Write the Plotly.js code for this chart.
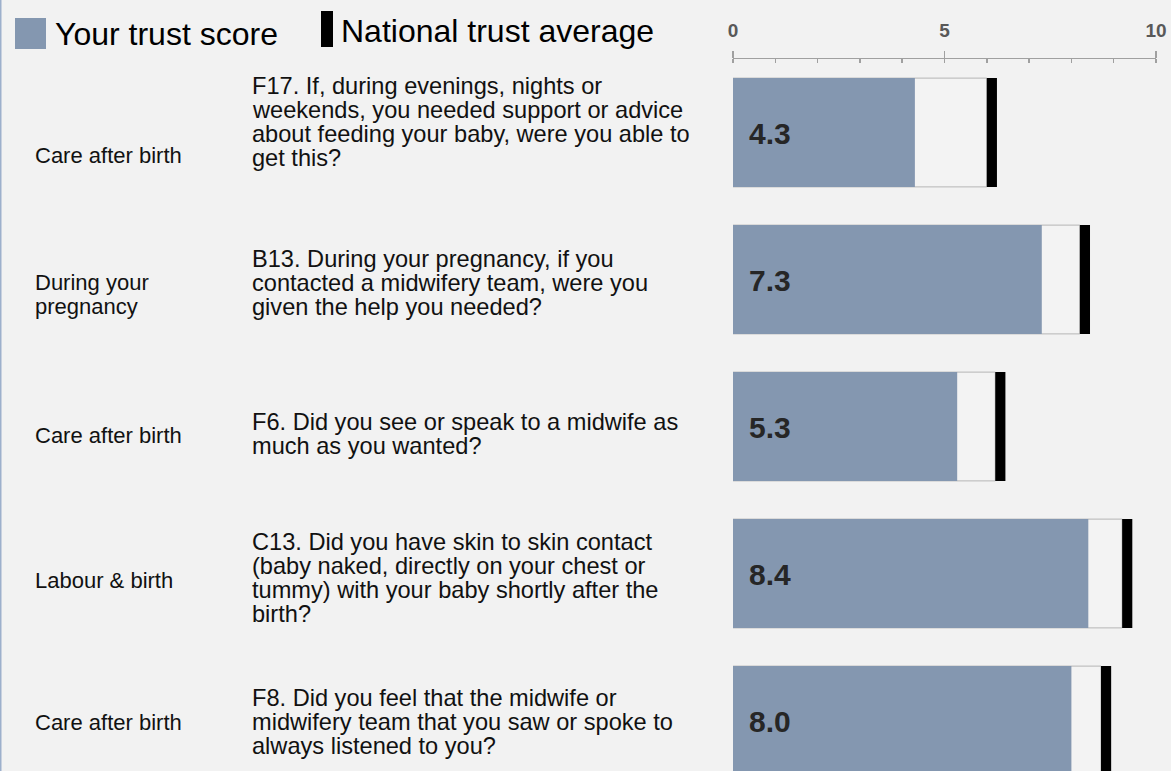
<!DOCTYPE html>
<html>
<head>
<meta charset="utf-8">
<script src="https://cdn.plot.ly/plotly-3.0.1.min.js"></script>
<style>
  html, body { margin: 0; padding: 0; background: #f2f2f2; }
  #chart { width: 1171px; height: 771px; }
</style>
</head>
<body>
<div id="chart"></div>
<script>
// ---- data ----
const questionIds = ['F17', 'B13', 'F6', 'C13', 'F8'];
const sections = ['Care after birth', 'During your<br>pregnancy', 'Care after birth', 'Labour & birth', 'Care after birth'];
const questions = [
  'F17. If, during evenings, nights or<br>weekends, you needed support or advice<br>about feeding your baby, were you able to<br>get this?',
  'B13. During your pregnancy, if you<br>contacted a midwifery team, were you<br>given the help you needed?',
  'F6. Did you see or speak to a midwife as<br>much as you wanted?',
  'C13. Did you have skin to skin contact<br>(baby naked, directly on your chest or<br>tummy) with your baby shortly after the<br>birth?',
  'F8. Did you feel that the midwife or<br>midwifery team that you saw or spoke to<br>always listened to you?'
];
const trustScores = [4.3, 7.3, 5.3, 8.4, 8.0];
const nationalAverages = [6.0, 8.2, 6.2, 9.2, 8.7];
const xTickVals = [0, 5, 10];
const legendLabels = ['Your trust score', 'National trust average'];

// ---- layout helpers (pixels) ----
const W = 1171, H = 771;
const px = v => v / W;
const py = v => 1 - v / H;
const FONT = 'Liberation Sans, Arial, sans-serif';
const markerWidth = 0.24;         // national marker thickness (axis units)
const barFrac = 0.74;
const qLineH = 24;
const sLineH = 23.5;
const questionShift = [10.5, -3.5, -8, -4.5, -1.5];
const sectionShift = [-23.5, -15, -9.5, -6.5, -1.5];

const traces = [
  { // national average box
    type: 'bar', orientation: 'h', y: questionIds, x: nationalAverages,
    width: barFrac, marker: { color: '#f3f3f3', line: { color: '#b5b5b5', width: 1 } },
    hoverinfo: 'skip', showlegend: false
  },
  { // trust score
    type: 'bar', orientation: 'h', y: questionIds, x: trustScores,
    width: barFrac, marker: { color: '#8497b0', line: { width: 0 } },
    name: legendLabels[0], showlegend: false
  },
  { // national marker
    type: 'bar', orientation: 'h', y: questionIds,
    x: nationalAverages.map(() => markerWidth), base: nationalAverages,
    width: barFrac, marker: { color: '#000000', line: { width: 0 } },
    name: legendLabels[1], showlegend: false
  }
];

const annotations = [];
// value labels
trustScores.forEach((v, i) => {
  annotations.push({
    xref: 'x', yref: 'y', x: 0, y: questionIds[i], xanchor: 'left', yanchor: 'middle',
    xshift: 14, yshift: -1, showarrow: false, text: v.toFixed(1),
    font: { family: FONT, size: 30, color: '#262626', weight: 'bold' }
  });
});
// section and question texts, line by line
function addLines(text, i, xpx, shift, size, lineH) {
  const lines = text.split('<br>');
  const n = lines.length;
  lines.forEach((t, k) => {
    annotations.push({
      xref: 'paper', yref: 'y', x: px(xpx), y: questionIds[i], xanchor: 'left', yanchor: 'middle',
      yshift: shift - (k - (n - 1) / 2) * lineH, showarrow: false, text: t,
      font: { family: FONT, size: size, color: '#111111' }
    });
  });
}
questions.forEach((q, i) => addLines(q, i, 250, questionShift[i], 23.6, qLineH));
sections.forEach((s, i) => addLines(s, i, 33, sectionShift[i], 22, sLineH));

// legend texts
annotations.push({
  xref: 'paper', yref: 'paper', x: px(53), y: py(34), xanchor: 'left', yanchor: 'middle',
  showarrow: false, text: legendLabels[0], font: { family: FONT, size: 32, color: '#000000' }
});
annotations.push({
  xref: 'paper', yref: 'paper', x: px(339), y: py(31), xanchor: 'left', yanchor: 'middle',
  showarrow: false, text: legendLabels[1], font: { family: FONT, size: 32, color: '#000000' }
});

const shapes = [
  { type: 'rect', xref: 'paper', yref: 'paper', x0: px(15), x1: px(46), y0: py(49), y1: py(18),
    fillcolor: '#8497b0', line: { width: 0 } },
  { type: 'rect', xref: 'paper', yref: 'paper', x0: px(321), x1: px(333), y0: py(47), y1: py(11),
    fillcolor: '#000000', line: { width: 0 } },
  { type: 'line', xref: 'paper', yref: 'paper', x0: px(0.5), x1: px(0.5), y0: 0, y1: 1,
    line: { color: '#9db0cc', width: 2 } }
];

const layout = {
  width: W, height: H,
  margin: { l: 0, r: 0, t: 0, b: 0, pad: 0 },
  paper_bgcolor: '#f2f2f2', plot_bgcolor: '#f2f2f2',
  barmode: 'overlay', showlegend: false,
  xaxis: {
    domain: [px(733), px(1156)], range: [0, 10], side: 'top', fixedrange: true,
    tickvals: xTickVals, ticks: 'outside', ticklen: 7, tickwidth: 1.5, tickcolor: '#a0a0a0',
    ticklabelstandoff: 6,
    showline: true, linecolor: '#a0a0a0', linewidth: 1.5,
    showgrid: false, zeroline: false,
    tickfont: { family: FONT, size: 19, color: '#595959', weight: 'bold' },
    minor: { dtick: 1, ticks: 'inside', ticklen: 4, tickwidth: 1.5, tickcolor: '#a0a0a0', showgrid: false }
  },
  yaxis: {
    domain: [0, 1 - 59 / H], type: 'category', categoryorder: 'array', categoryarray: questionIds,
    range: [4.3435, -0.5], showticklabels: false, showgrid: false, zeroline: false, showline: false,
    ticks: '', fixedrange: true
  },
  annotations: annotations,
  shapes: shapes
};

Plotly.newPlot('chart', traces, layout, { displayModeBar: false, staticPlot: true });
</script>
</body>
</html>
